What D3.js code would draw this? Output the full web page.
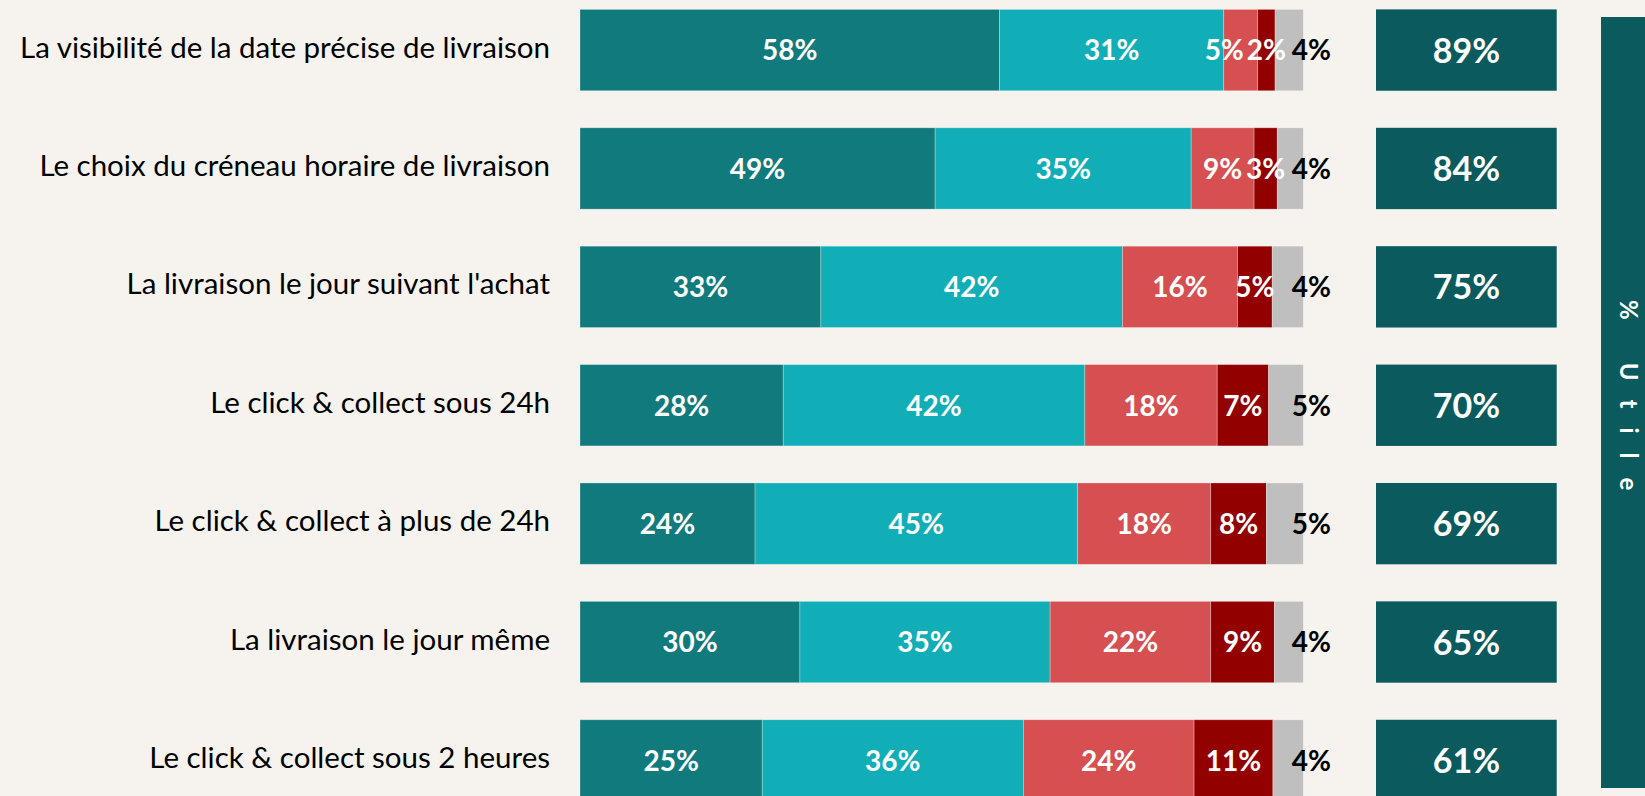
<!DOCTYPE html>
<html>
<head>
<meta charset="utf-8">
<script src="https://cdn.jsdelivr.net/npm/d3@7"></script>
<style>
  html, body { margin: 0; padding: 0; background: #F6F3EF; }
  svg { display: block; }
</style>
</head>
<body>
<svg id="chart" width="1645" height="796"></svg>
<script>
// categories, top to bottom
const categories = [
  "La visibilité de la date précise de livraison",
  "Le choix du créneau horaire de livraison",
  "La livraison le jour suivant l'achat",
  "Le click & collect sous 24h",
  "Le click & collect à plus de 24h",
  "La livraison le jour même",
  "Le click & collect sous 2 heures"
];

// series values (%)
const series = ["Très utile", "Plutôt utile", "Peu utile", "Pas du tout utile", "NSP"];
const tresUtile   = [58.0, 49.1, 33.3, 28.1, 24.2, 30.4, 25.2];
const plutotUtile = [31.0, 35.4, 41.7, 41.7, 44.6, 34.6, 36.1];
const peuUtile    = [4.7, 8.7, 15.9, 18.3, 18.4, 22.2, 23.6];
const pasUtile    = [2.4, 3.2, 4.8, 7.1, 7.7, 8.8, 10.9];
const nsp         = [3.9, 3.6, 4.3, 4.8, 5.1, 4.0, 4.2];
const totalUtile  = [89, 84, 75, 70, 69, 65, 61];

const panelTitle = "% Utile";

// colors
const COLORS = ['#117A7D', '#12AEB7', '#D65052', '#930000', '#BFBFBF'];
const LABEL_COLORS = ['#FFFFFF', '#FFFFFF', '#FFFFFF', '#FFFFFF', '#000000'];
const DARK = '#0A5A5E';

const svg = d3.select('#chart');
const pct = v => Math.round(v) + '%';

const rows = categories.map((c, i) => ({
  cat: c,
  values: [tresUtile[i], plutotUtile[i], peuUtile[i], pasUtile[i], nsp[i]],
  utile: totalUtile[i]
}));

// scales
const y = d3.scaleBand()
  .domain(categories)
  .range([9.4, 801.1])
  .paddingInner(0.313)
  .paddingOuter(0);

const x = d3.scaleLinear().domain([0, 100]).range([580, 1303.3]);

const stack = d3.stack().keys(d3.range(series.length)).value((d, k) => d.values[k]);
const layers = stack(rows);

// category labels
svg.append('g')
  .selectAll('text')
  .data(categories)
  .join('text')
  .attr('x', 550)
  .attr('y', d => y(d) + y.bandwidth() / 2 + 7.5)
  .attr('text-anchor', 'end')
  .style('font-family', 'Lato, sans-serif')
  .style('font-size', '29.5px')
  .style('fill', '#000')
  .text(d => d);

// stacked segments
const layerG = svg.append('g')
  .selectAll('g')
  .data(layers)
  .join('g')
  .attr('fill', (d, i) => COLORS[i]);

layerG.selectAll('rect')
  .data(d => d)
  .join('rect')
  .attr('x', d => x(d[0]))
  .attr('y', d => y(d.data.cat))
  .attr('width', d => x(d[1]) - x(d[0]))
  .attr('height', y.bandwidth())
  .attr('stroke', '#ffffff')
  .attr('stroke-opacity', 0.35)
  .attr('stroke-width', 0.8);

// segment labels
const labelG = svg.append('g');
rows.forEach((row, ri) => {
  const cy = y(row.cat) + y.bandwidth() / 2;
  const items = layers.map((layer, k) => {
    const seg = layer[ri];
    const cx = k === series.length - 1 ? x(seg[1]) + 8 : (x(seg[0]) + x(seg[1])) / 2;
    return { k, cx, v: row.values[k] };
  });
  const texts = items.map(it => labelG.append('text')
    .attr('x', it.cx)
    .attr('y', cy + 10.3)
    .attr('text-anchor', 'middle')
    .style('font-family', 'Lato, sans-serif')
    .style('font-weight', 'bold')
    .style('font-size', '28px')
    .style('fill', LABEL_COLORS[it.k])
    .text(pct(it.v)));
  // push crowded labels to the left so they don't overlap
  for (let k = items.length - 2; k >= 0; k--) {
    const w = texts[k].node().getComputedTextLength();
    const wn = texts[k + 1].node().getComputedTextLength();
    const nextLeft = +texts[k + 1].attr('x') - wn / 2;
    const cx = +texts[k].attr('x');
    if (cx + w / 2 > nextLeft - 3) texts[k].attr('x', nextLeft - 3 - w / 2);
  }
});

// "% utile" boxes
const ux0 = 1376, ux1 = 1556.7;
svg.append('g')
  .selectAll('rect')
  .data(rows)
  .join('rect')
  .attr('x', ux0)
  .attr('y', d => y(d.cat))
  .attr('width', ux1 - ux0)
  .attr('height', y.bandwidth())
  .attr('fill', DARK);

svg.append('g')
  .selectAll('text')
  .data(rows)
  .join('text')
  .attr('x', (ux0 + ux1) / 2)
  .attr('y', d => y(d.cat) + y.bandwidth() / 2 + 12.5)
  .attr('text-anchor', 'middle')
  .style('font-family', 'Lato, sans-serif')
  .style('font-weight', 'bold')
  .style('font-size', '34px')
  .style('fill', '#fff')
  .text(d => d.utile + '%');

// side panel
svg.append('rect')
  .attr('x', 1601)
  .attr('y', 17)
  .attr('width', 60)
  .attr('height', 771)
  .attr('fill', DARK);

// spaced-out vertical title, one tspan per character
const title = svg.append('text')
  .attr('transform', 'translate(1628,300) rotate(90)')
  .attr('y', 8)
  .style('font-family', 'Lato, sans-serif')
  .style('font-weight', 'bold')
  .style('font-size', '24px')
  .style('fill', '#fff');
let cursor = 0;
panelTitle.split('').forEach(ch => {
  const t = title.append('tspan').attr('x', cursor).text(ch);
  const w = ch === ' ' ? 5 : t.node().getComputedTextLength();
  cursor += w + 19;
});
</script>
</body>
</html>
